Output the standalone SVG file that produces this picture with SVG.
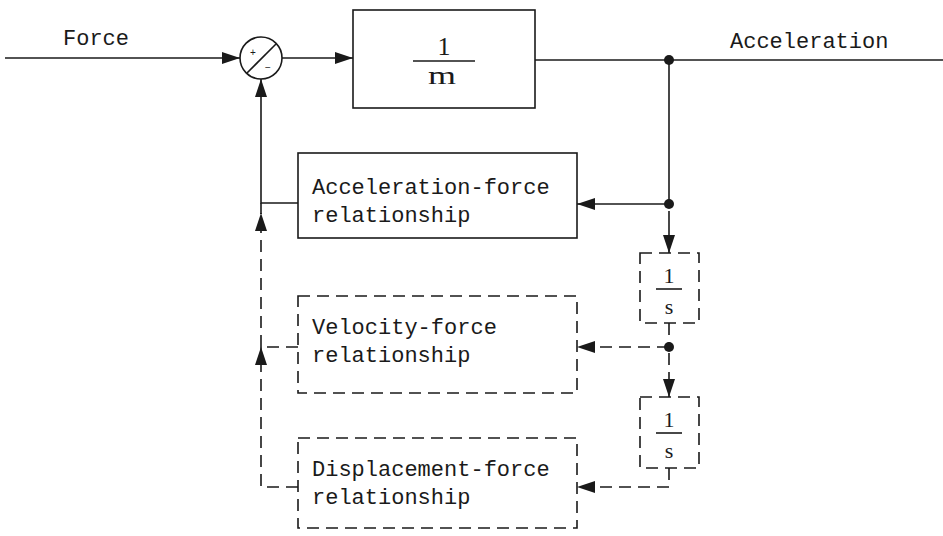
<svg xmlns="http://www.w3.org/2000/svg" width="943" height="536" viewBox="0 0 943 536">
<style>
.ln{fill:none;stroke:#1a1a1a;stroke-width:1.6}
.ds{fill:none;stroke:#1a1a1a;stroke-width:1.6;stroke-dasharray:12 7}
.bx{fill:#fff;stroke:#1a1a1a;stroke-width:1.6}
.dbx{fill:#fff;stroke:#1a1a1a;stroke-width:1.6;stroke-dasharray:12 7}
.t{font-family:"Liberation Mono","DejaVu Sans Mono",monospace;font-size:22px;fill:#1a1a1a}
.f{font-family:"Liberation Serif","DejaVu Serif",serif;font-size:22px;fill:#1a1a1a;text-anchor:middle}
.fm{font-family:"Liberation Serif","DejaVu Serif",serif;font-size:26px;fill:#1a1a1a;text-anchor:middle}
.sm{font-family:"Liberation Sans",Arial,sans-serif;font-size:10px;fill:#1a1a1a;text-anchor:middle}
.dot{fill:#1a1a1a}
</style>
<defs>
<marker id="ah" viewBox="0 0 18 12" refX="18" refY="6" markerWidth="18" markerHeight="12" markerUnits="userSpaceOnUse" orient="auto">
<path d="M0,0 L18,6 L0,12 z" fill="#1a1a1a"/>
</marker>
</defs>
<g id="connectors">
<path class="ln" d="M5,58 H240" marker-end="url(#ah)"/>
<path class="ln" d="M282,58 H353" marker-end="url(#ah)"/>
<path class="ln" d="M535,60 H943"/>
<path class="ln" d="M669,60 V204"/>
<path class="ln" d="M669,204 H577" marker-end="url(#ah)"/>
<path class="ln" d="M669,211 V253" marker-end="url(#ah)"/>
<path class="ds" d="M669,323 V347"/>
<path class="ds" d="M669,347 H577" marker-end="url(#ah)"/>
<path class="ds" d="M669,353 V397" marker-end="url(#ah)"/>
<path class="ds" d="M669,468 V487 H577" marker-end="url(#ah)"/>
<path class="ln" d="M298,203 H261 V79" marker-end="url(#ah)"/>
<path class="ln" d="M261,203 V214"/>
<path class="ds" d="M261,347 V213" marker-end="url(#ah)"/>
<path class="ds" d="M298,347 H261"/>
<path class="ds" d="M298,487 H261 V347" marker-end="url(#ah)"/>
<circle class="dot" cx="669" cy="60" r="5"/>
<circle class="dot" cx="669" cy="204" r="5"/>
<circle class="dot" cx="669" cy="347" r="5"/>
</g>
<g id="labels">
<text class="t" x="63" y="45">Force</text>
<text class="t" x="730" y="48">Acceleration</text>
</g>
<g id="sum">
<circle cx="261" cy="58" r="21" fill="#fff" stroke="#1a1a1a" stroke-width="1.6"/>
<line x1="247" y1="73" x2="276" y2="44" stroke="#1a1a1a" stroke-width="1.6"/>
<text class="sm" x="253" y="56">+</text>
<text class="sm" x="268" y="71">−</text>
</g>
<g id="mass">
<rect class="bx" x="353" y="10" width="182" height="98"/>
<text class="fm" x="444" y="55">1</text>
<line x1="413" y1="61" x2="475" y2="61" stroke="#1a1a1a" stroke-width="1.6"/>
<text class="fm" x="442" y="84" textLength="28" lengthAdjust="spacingAndGlyphs">m</text>
</g>
<g id="accel-force">
<rect class="bx" x="298" y="153" width="279" height="85"/>
<text class="t" x="312" y="194">Acceleration-force</text>
<text class="t" x="312" y="222">relationship</text>
</g>
<g id="velocity-force">
<rect class="dbx" x="298" y="296" width="279" height="97"/>
<text class="t" x="312" y="334">Velocity-force</text>
<text class="t" x="312" y="362">relationship</text>
</g>
<g id="displacement-force">
<rect class="dbx" x="298" y="438" width="279" height="90"/>
<text class="t" x="312" y="476">Displacement-force</text>
<text class="t" x="312" y="504">relationship</text>
</g>
<g id="integrator1">
<rect class="dbx" x="640" y="253" width="59" height="70"/>
<text class="f" x="669" y="283">1</text>
<line x1="656" y1="289" x2="682" y2="289" stroke="#1a1a1a" stroke-width="1.6"/>
<text class="f" x="669" y="314">s</text>
</g>
<g id="integrator2">
<rect class="dbx" x="640" y="397" width="59" height="71"/>
<text class="f" x="669" y="427">1</text>
<line x1="656" y1="433" x2="682" y2="433" stroke="#1a1a1a" stroke-width="1.6"/>
<text class="f" x="669" y="458">s</text>
</g>
</svg>
